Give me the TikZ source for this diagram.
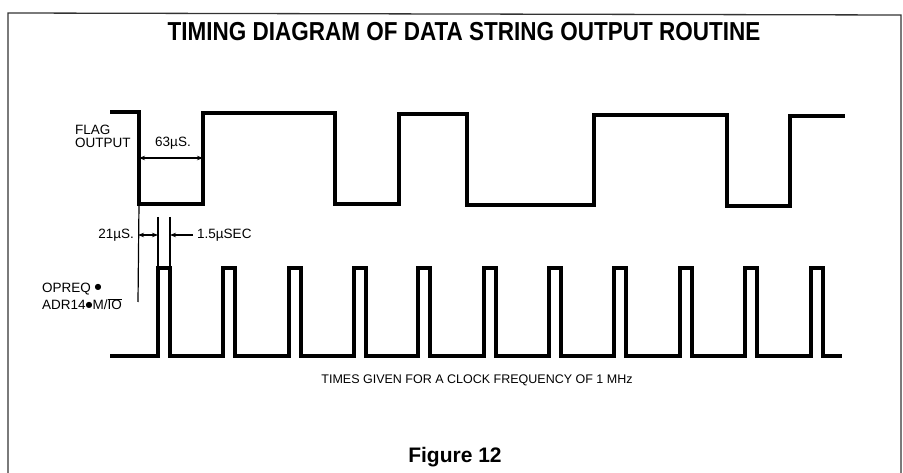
\documentclass[tikz,border=0pt]{standalone}
\usepackage{fontspec}
\setmainfont{Liberation Sans}
\newfontfamily\dotfont{DejaVu Sans}
\usetikzlibrary{arrows.meta}
\newcommand{\bigdot}{\raisebox{2.6pt}{\dotfont\fontsize{8}{8}\selectfont ●}}
\begin{document}
\begin{tikzpicture}[x=1pt,y=-1pt,
  wave/.style={line width=3.6pt,line join=miter,line cap=butt},
  dim/.style={line width=1.2pt},
  dimarrow/.style={line width=1.2pt,{Stealth[length=6pt,width=4.5pt]}-{Stealth[length=6pt,width=4.5pt]}},
  onearrow/.style={line width=1.2pt,-{Stealth[length=6pt,width=4.5pt]}},
  lbl/.style={inner sep=0pt,font=\fontsize{13.5}{14}\selectfont},
  frameline/.style={line width=1.3pt,draw=black!80}]
\useasboundingbox (0,0) rectangle (903,473);
% frame
\draw[frameline] (8,480) -- (8,13) -- (901,15) -- (901,480);
% title
\node[inner sep=0pt,font=\fontsize{26}{28}\selectfont\bfseries] (title) at (464,32) {\scalebox{0.865}[1]{TIMING DIAGRAM OF DATA STRING OUTPUT ROUTINE}};
% flag output waveform
\draw[wave] (110,112) -- (139,112) -- (139,204) -- (203,204) -- (203,113) -- (335,113) -- (335,204) -- (399,204) -- (399,114) -- (467,114) -- (467,205) -- (594,205) -- (594,115) -- (727,115) -- (727,206) -- (790,206) -- (790,116) -- (845,116);
\node[lbl,anchor=west] (flag) at (75,130) {FLAG};
\node[lbl,anchor=west] (output) at (75,143) {OUTPUT};
% 63us dimension
\coordinate (a63) at (139,158);
\coordinate (b63) at (203,158);
\draw[dimarrow] (a63) -- (b63);
\node[lbl] (t63) at (173,143) {63µS.};
% extension line from flag edge
\coordinate (extA1) at (139,204);
\coordinate (extA2) at (138,302);
\draw[dim] (extA1) -- (extA2);
% pulse waveform
\draw[wave] (110,356)
  \foreach \p in {158,223,289,354,418,484,549,614,680,745,811} {
    -- (\p,356) -- (\p,268) -- ({\p+12},268) -- ({\p+12},356)
  } -- (842,356);
% 21us / 1.5us dimensions
\coordinate (ext1t) at (158,217);
\coordinate (ext1b) at (158,266);
\coordinate (ext2t) at (170,217);
\coordinate (ext2b) at (170,266);
\draw[dim] (ext1t) -- (ext1b);
\draw[dim] (ext2t) -- (ext2b);
\coordinate (d21a) at (138,235);
\coordinate (d21b) at (158,235);
\draw[dimarrow] (d21a) -- (d21b);
\coordinate (d15a) at (193,235);
\coordinate (d15b) at (170,235);
\draw[onearrow] (d15a) -- (d15b);
\node[lbl,anchor=east] (t21) at (134,235) {21µS.};
\node[lbl,anchor=west] (t15) at (197,235) {1.5µSEC};
\node[lbl,anchor=west] (opreq) at (42,289) {OPREQ \bigdot};
\node[lbl,anchor=west] (adr) at (42,304) {ADR14\bigdot M/$\overline{\mbox{IO}}$};
% notes
\node[inner sep=0pt,font=\fontsize{12.5}{13}\selectfont] (times) at (477,380) {TIMES GIVEN FOR A CLOCK FREQUENCY OF 1 MHz};
\node[inner sep=0pt,font=\fontsize{21}{23}\selectfont\bfseries] (fig) at (455,457) {Figure 12};
\end{tikzpicture}
\end{document}
